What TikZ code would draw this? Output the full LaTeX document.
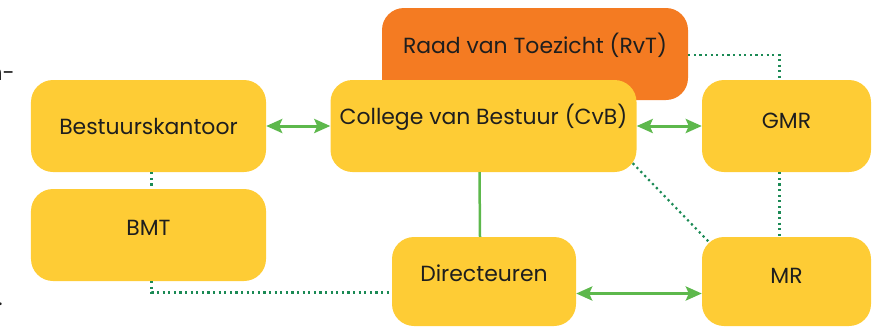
\documentclass[tikz,border=0pt]{standalone}
\usepackage{fontspec}
\setmainfont{Poppins}
\usetikzlibrary{arrows.meta}
\definecolor{boxyellow}{HTML}{FECC35}
\definecolor{boxorange}{HTML}{F47B22}
\definecolor{arrowgreen}{HTML}{5DB84C}
\definecolor{dotgreen}{HTML}{1B8A55}
\definecolor{txt}{HTML}{1E1E1E}
\tikzset{
  orgbox/.style={rounded corners=22bp, fill=boxyellow, draw=none, text=txt,
    font=\fontsize{22}{26}\selectfont, inner sep=0pt},
  topbox/.style={orgbox, fill=boxorange},
  twoway/.style={draw=arrowgreen, line width=3bp,
    {Stealth[length=16bp,width=14bp,inset=3bp]}-{Stealth[length=16bp,width=14bp,inset=3bp]}},
  solidlink/.style={draw=arrowgreen, line width=2.5bp},
  dotlink/.style={draw=dotgreen, line width=2.2bp, dash pattern=on 2.2bp off 3.4bp},
  edgetext/.style={text=txt, font=\fontsize{22}{26}\selectfont, inner sep=0pt}
}
\begin{document}
\begin{tikzpicture}[x=1bp,y=-1bp]
\useasboundingbox (0,0) rectangle (886,326);
% nodes
\node[topbox, minimum width=306bp, minimum height=92bp] (rvt) at (535,54) {\raisebox{21bp}{Raad van Toezicht (RvT)}};
\node[orgbox, minimum width=306bp, minimum height=92bp] (cvb) at (483.5,126) {\raisebox{24bp}{College van Bestuur (CvB)}};
\node[orgbox, minimum width=235bp, minimum height=92bp] (bk) at (148.5,126) {\raisebox{-5bp}{Bestuurskantoor}};
\node[orgbox, minimum width=235bp, minimum height=92bp] (bmt) at (148.5,235) {\raisebox{15bp}{BMT}};
\node[orgbox, minimum width=169bp, minimum height=92bp] (gmr) at (786.5,126) {\raisebox{10bp}{GMR}};
\node[orgbox, minimum width=169bp, minimum height=89bp] (mr) at (786.5,281.5) {\raisebox{12bp}{MR}};
\node[orgbox, minimum width=184bp, minimum height=89bp] (dir) at (484,281.5) {\raisebox{16bp}{Directeuren}};
% margin fragments
\node[edgetext, anchor=base east] (frag1) at (15,80) {n-};
\node[edgetext, anchor=base east] (frag2) at (3,305) {.};
% connectors
\draw[twoway] (bk.east) -- (cvb.west);
\draw[twoway] (cvb.east) -- (gmr.west);
\draw[twoway] ([yshift=-12bp]dir.east) -- ([yshift=-12bp]mr.west);
\draw[solidlink] ([xshift=-4bp]cvb.south) -- ([xshift=-4bp]dir.north);
\draw[dotlink] ([yshift=-1bp]rvt.east) -| ([xshift=-7bp]gmr.north);
\draw[dotlink] ([xshift=-7bp]gmr.south) -- ([xshift=-7bp]mr.north);
\draw[dotlink] ([xshift=-4bp,yshift=9bp]cvb.south east) -- ([xshift=7bp,yshift=-5bp]mr.north west);
\draw[dotlink] ([xshift=3bp]bk.south) -- ([xshift=3bp]bmt.north);
\draw[dotlink] ([xshift=3bp]bmt.south) |- ([yshift=-11bp]dir.west);
\end{tikzpicture}
\end{document}
